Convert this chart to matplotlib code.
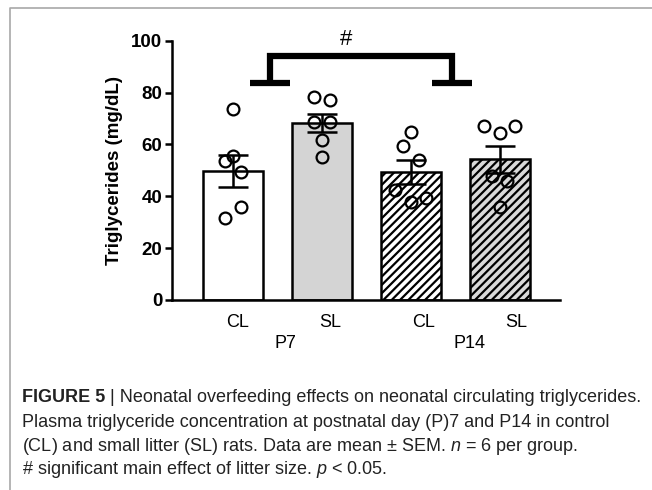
import numpy as np
import matplotlib
matplotlib.use("Agg")
from matplotlib import pyplot as plt
from matplotlib.lines import Line2D

plt.rcParams['font.family'] = ['Liberation Sans', 'DejaVu Sans']
plt.rcParams['mathtext.fontset'] = 'custom'
plt.rcParams['mathtext.it'] = 'Liberation Sans:italic'
plt.rcParams['mathtext.rm'] = 'Liberation Sans'
plt.rcParams['hatch.linewidth'] = 1.6

# data
groups = ["CL", "SL", "CL", "SL"]
ages = ["P7", "P14"]
means = [49.8, 68.2, 49.3, 54.3]
sems = [6.1, 3.5, 4.6, 5.2]
cl_p7 = [73.6, 55.6, 53.7, 49.5, 36.0, 31.5]
sl_p7 = [78.2, 77.0, 68.8, 68.8, 61.8, 55.3]
cl_p14 = [64.7, 59.5, 54.0, 42.5, 37.6, 39.2]
sl_p14 = [66.9, 64.3, 66.9, 47.6, 45.7, 36.0]
points = [cl_p7, sl_p7, cl_p14, sl_p14]

# horizontal spread of the dots (layout only)
jitter = [[0, 0, -1, 1, 1, -1],
          [-1, 1, -1, 1, 0, 0],
          [0, -1, 1, -2, 0, 2],
          [-2, 0, 2, -1, 1, 0]]

fills = ["white", "#d4d4d4", "white", "#d9d9d9"]
hatches = [None, None, "////", "////"]

fig = plt.figure(figsize=(6.52, 4.9), dpi=100)
ax = fig.add_axes([0.264, 0.388, 0.595, 0.529])

x = np.arange(len(groups))
for i in range(len(groups)):
    ax.bar(x[i], means[i], width=0.674, color=fills[i], edgecolor='black',
           linewidth=1.8, hatch=hatches[i], zorder=2)
    ax.errorbar(x[i], means[i], yerr=sems[i], color='black', elinewidth=1.8,
                capsize=11, capthick=1.8, zorder=4)
    xs = x[i] + np.array(jitter[i]) * 0.087
    ax.plot(xs, points[i], 'o', markersize=8.5, markerfacecolor='none',
            markeredgecolor='black', markeredgewidth=1.6, zorder=5,
            clip_on=False)

# significance bracket
bl, br, bh, foot = 0.42, 2.46, 94, 83.5
ax.plot([bl, bl, br, br], [foot, bh, bh, foot], color='black', lw=4.5,
        solid_joinstyle='miter', solid_capstyle='butt', clip_on=False)
for bx in (bl, br):
    ax.plot([bx - 0.225, bx + 0.225], [foot, foot], color='black', lw=4.5,
            solid_capstyle='butt', clip_on=False)
ax.text(1.27, 100.5, "#", ha='center', va='center', fontsize=16, clip_on=False)

ax.set_xlim(-0.682, 3.678)
ax.set_ylim(0, 100)
ax.set_yticks(np.arange(0, 101, 20))
for lab in ax.get_yticklabels():
    lab.set_fontweight('bold')
ax.tick_params(axis='y', labelsize=13.5, width=1.8, length=5, pad=2)
ax.set_xticks([0.05, 1.09, 2.14, 3.19])
ax.set_xticklabels(groups, fontsize=13)
ax.tick_params(axis='x', length=0, pad=10)
for s in ['top', 'right']:
    ax.spines[s].set_visible(False)
for s in ['left', 'bottom']:
    ax.spines[s].set_linewidth(1.8)
ax.set_ylabel("Triglycerides (mg/dL)", fontsize=13.5, fontweight='bold',
              labelpad=6)

fig.text(285 / 652, 1 - 343 / 490, ages[0], ha='center', va='center', fontsize=13)
fig.text(470 / 652, 1 - 343 / 490, ages[1], ha='center', va='center', fontsize=13)

# figure frame (top and left edge)
fig.add_artist(Line2D([9.5 / 652, 9.5 / 652, 1], [0, 1 - 8.5 / 490, 1 - 8.5 / 490],
                      transform=fig.transFigure, color='#a8a8a8', lw=1.2))

cap = 13.0
cx = 22 / 652
t1 = fig.text(cx, 1 - 398 / 490, "FIGURE 5", fontsize=cap, fontweight='bold',
              va='center', color='#222222')
ax.annotate(" | Neonatal overfeeding effects on neonatal circulating triglycerides.",
            xy=(1, 0), xycoords=t1, va='bottom', fontsize=cap, color='#222222',
            annotation_clip=False)
fig.text(cx, 1 - 422 / 490,
         "Plasma triglyceride concentration at postnatal day (P)7 and P14 in control",
         fontsize=cap, va='center', color='#222222')
fig.text(cx, 1 - 446 / 490,
         "(CL) and small litter (SL) rats. Data are mean \u00b1 SEM. $n$ = 6 per group.",
         fontsize=cap, va='center', color='#222222')
fig.text(cx, 1 - 469 / 490,
         "# significant main effect of litter size. $p$ < 0.05.",
         fontsize=cap, va='center', color='#222222')

fig.savefig("out.png", dpi=100)
